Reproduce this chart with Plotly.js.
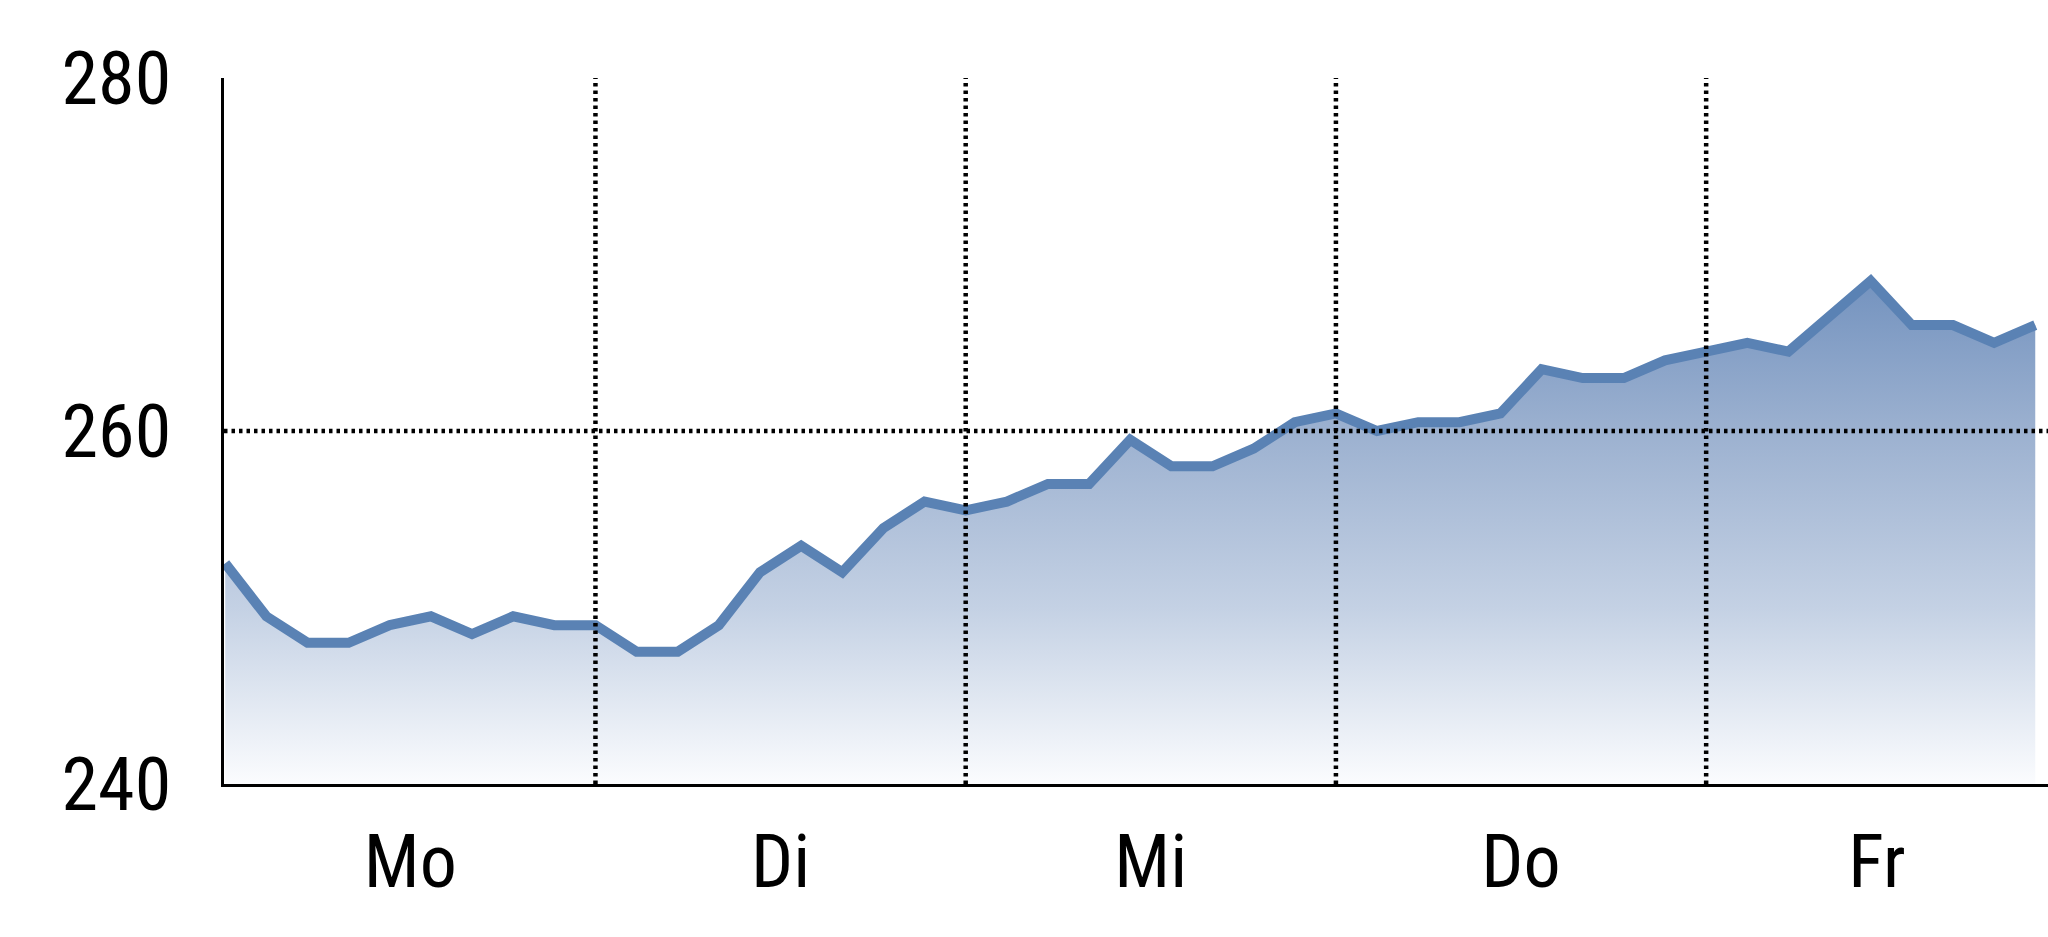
<!DOCTYPE html>
<html>
<head>
<meta charset="utf-8">
<script src="https://cdn.plot.ly/plotly-3.0.1.min.js"></script>
<style>
  html, body { margin: 0; padding: 0; background: #ffffff; }
  #chart { width: 2048px; height: 937px; }
</style>
</head>
<body>
<div id="chart"></div>
<script>
// Data (9 readings per trading day, boundaries shared)
const days = ["Mo", "Di", "Mi", "Do", "Fr"];
const dayCenters = [4.5, 13.5, 22.5, 31.5, 40.15];
const dayBoundaries = [9, 18, 27, 36];
const values = [
  252.5, 249.5, 248, 248, 249, 249.5, 248.5, 249.5, 249, 249,
  247.5, 247.5, 249, 252, 253.5, 252, 254.5, 256, 255.5, 256,
  257, 257, 259.5, 258, 258, 259, 260.5, 261, 260, 260.5,
  260.5, 261, 263.5, 263, 263, 264, 264.5, 265, 264.5, 266.5,
  268.5, 266, 266, 265, 266
];
const yTicks = [240, 260, 280];
const refLevel = 260;

const xs = values.map((_, i) => i);
const FONT = '"Liberation Sans Narrow", "Arial Narrow", "Roboto Condensed", "Liberation Sans", Arial, sans-serif';

const trace = {
  type: 'scatter',
  mode: 'lines',
  x: xs,
  y: values,
  fill: 'tozeroy',
  fillgradient: {
    type: 'vertical',
    start: 240,
    stop: 268.5,
    colorscale: [
      [0, '#fbfcfe'],
      [0.35, '#c4d1e4'],
      [0.7, '#9cb1d0'],
      [1, '#7493bf']
    ]
  },
  line: { color: '#5a82b4', width: 10, shape: 'linear' },
  hoverinfo: 'skip',
  showlegend: false
};

const dotStyle = { color: '#000000', width: 4.5, dash: '3.5px,4px' };
const shapes = dayBoundaries.map(b => ({
  type: 'line', xref: 'x', yref: 'y',
  x0: b, x1: b, y0: 240, y1: 280,
  line: dotStyle, layer: 'above'
}));
shapes.push({
  type: 'line', xref: 'paper', yref: 'y',
  x0: 0, x1: 1, y0: refLevel, y1: refLevel,
  line: dotStyle, layer: 'above'
});

const layout = {
  width: 2048,
  height: 937,
  margin: { l: 224, r: 0, t: 78, b: 153, pad: 0 },
  paper_bgcolor: '#ffffff',
  plot_bgcolor: '#ffffff',
  font: { family: FONT, color: '#000000', size: 74 },
  xaxis: {
    range: [-0.03, 44.31],
    tickmode: 'array',
    tickvals: dayCenters,
    ticktext: days,
    ticks: '',
    ticklabelstandoff: 11,
    showgrid: false,
    zeroline: false,
    showline: true,
    linecolor: '#000000',
    linewidth: 3,
    tickfont: { family: FONT, size: 74, color: '#000000' },
    fixedrange: true
  },
  yaxis: {
    range: [240, 280],
    tickmode: 'array',
    tickvals: yTicks,
    ticktext: yTicks.map(String),
    ticks: '',
    ticklabelstandoff: 35,
    showgrid: false,
    zeroline: false,
    showline: true,
    linecolor: '#000000',
    linewidth: 3,
    tickfont: { family: FONT, size: 74, color: '#000000' },
    fixedrange: true
  },
  shapes: shapes
};

Plotly.newPlot('chart', [trace], layout, { displayModeBar: false, staticPlot: true });
</script>
</body>
</html>
